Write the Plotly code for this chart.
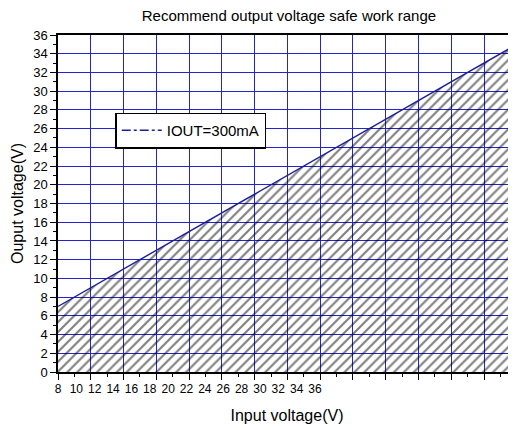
import plotly.graph_objects as go

# data
input_v = [8, 10, 12, 14, 16, 18, 20, 22, 24, 26, 28, 30, 32, 34, 36]
output_v = [7, 9, 11, 13, 15, 17, 19, 21, 23, 25, 27, 29, 31, 33, 35]
x_tick_labels = ["8", "10", "12", "14", "16", "18", "20", "22", "24", "26", "28", "30", "32", "34", "36"]
y_ticks = list(range(0, 37, 2))
series_name = "IOUT=300mA"

FONT = "Liberation Sans, Arial, sans-serif"
GRID = "#2424cc"
LINE = "#1e1e96"

fig = go.Figure()

# hatched safe area under the limit line
fig.add_trace(go.Scatter(
    x=input_v, y=output_v, mode="lines", fill="tozeroy",
    fillcolor="rgba(0,0,0,0)",
    fillpattern=dict(shape="/", fgcolor="black", bgcolor="rgba(0,0,0,0)",
                     size=7, solidity=0.3, fillmode="overlay"),
    line=dict(color=LINE, width=1.4),
    showlegend=False, hoverinfo="skip",
))

# legend entry (dash-dot sample like the original)
fig.add_trace(go.Scatter(
    x=[None], y=[None], xaxis="x2", mode="lines", name=series_name,
    line=dict(color=LINE, width=1.6, dash="dashdot"),
))

# page body has an 8px margin, so the figure is 8px smaller each way
fig.update_layout(
    width=508, height=422,
    margin=dict(l=50, r=0, t=27, b=58),
    paper_bgcolor="white", plot_bgcolor="white",
    font=dict(family=FONT, size=12, color="black"),
    title=dict(text="Recommend output voltage safe work range",
               x=0.553, xanchor="center", y=0.995, yanchor="top",
               pad=dict(t=0, b=0), font=dict(size=15)),
    showlegend=True,
    legend=dict(x=0.125, y=0.77, xanchor="left", yanchor="top",
                bgcolor="white", bordercolor="black", borderwidth=1.5,
                font=dict(size=15), itemwidth=40, tracegroupgap=0),
    xaxis=dict(
        range=[8, 35.95], tickmode="array", tickvals=input_v,
        showticklabels=False, ticks="outside", ticklen=6, tickwidth=1,
        tickcolor="black", automargin=False,
        minor=dict(dtick=1, ticks="outside", ticklen=3, tickcolor="black", showgrid=False),
        showgrid=True, gridcolor=GRID, gridwidth=1.3,
        showline=True, linecolor="black", linewidth=1.5, mirror=True,
        zeroline=False,
    ),
    xaxis2=dict(
        overlaying="x", anchor="y", side="bottom", automargin=False,
        range=[8, 57.9], tickmode="array", tickvals=input_v, ticktext=x_tick_labels,
        ticks="outside", ticklen=6, tickcolor="rgba(0,0,0,0)",
        showgrid=False, showline=False, zeroline=False,
        tickfont=dict(size=12),
        title=dict(text="Input voltage(V)", font=dict(size=16), standoff=14),
    ),
    yaxis=dict(
        range=[0, 36], tickmode="array", tickvals=y_ticks, automargin=False,
        ticks="outside", ticklen=6, tickcolor="black",
        minor=dict(dtick=1, ticks="outside", ticklen=3, tickcolor="black", showgrid=False),
        showgrid=True, gridcolor=GRID, gridwidth=1.3,
        showline=True, linecolor="black", linewidth=1.5,
        zeroline=False, tickfont=dict(size=13),
        title=dict(text="Ouput voltage(V)", font=dict(size=16), standoff=6),
    ),
)

fig.write_html("out.html")
